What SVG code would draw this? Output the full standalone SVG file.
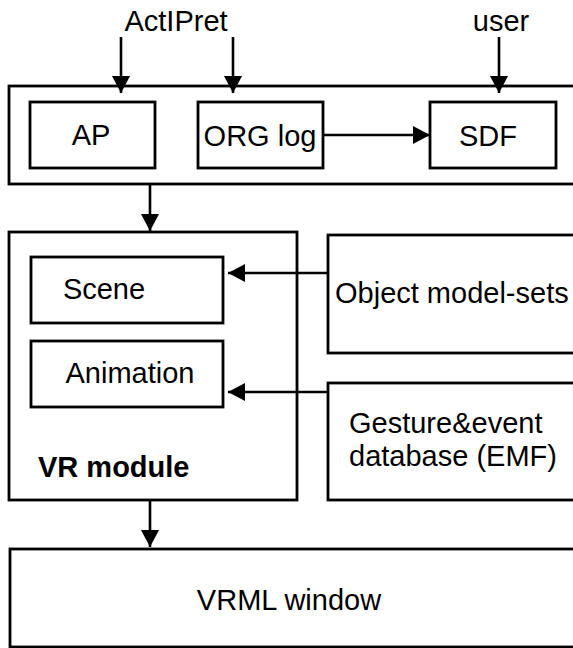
<svg xmlns="http://www.w3.org/2000/svg" width="573" height="648" viewBox="0 0 573 648">
  <style>
    .box { fill: #ffffff; stroke: #000000; stroke-width: 2.8; }
    .lbl { font-family: "Liberation Sans", Arial, sans-serif; font-size: 29px; fill: #000000; }
    .mid { text-anchor: middle; }
    .bold { font-weight: bold; }
    .conn { fill: none; stroke: #000000; stroke-width: 2.6; marker-end: url(#arrow); }
  </style>
  <defs>
    <marker id="arrow" markerUnits="userSpaceOnUse" markerWidth="17" markerHeight="18" viewBox="0 0 17 18" refX="17" refY="9" orient="auto">
      <path d="M0,0 L17,9 L0,18 Z" fill="#000000"/>
    </marker>
  </defs>
  <rect width="573" height="648" fill="#ffffff"/>

  <!-- source labels above the input stage -->
  <g id="actipret">
    <text class="lbl mid" x="176" y="31">ActIPret</text>
  </g>
  <g id="user">
    <text class="lbl mid" x="501" y="31">user</text>
  </g>

  <!-- input stage -->
  <g id="input-stage">
    <rect class="box" x="9" y="86" width="600" height="98"/>
  </g>
  <g id="ap">
    <rect class="box" x="30" y="102" width="125" height="66"/>
    <text class="lbl mid" x="91" y="145">AP</text>
  </g>
  <g id="org-log">
    <rect class="box" x="198" y="102" width="125" height="66"/>
    <text class="lbl mid" x="260" y="146">ORG log</text>
  </g>
  <g id="sdf">
    <rect class="box" x="430" y="102" width="126" height="66"/>
    <text class="lbl mid" x="488" y="146">SDF</text>
  </g>

  <!-- VR module -->
  <g id="vr-module">
    <rect class="box" x="9" y="232" width="288" height="268"/>
    <text class="lbl bold" x="38" y="477">VR module</text>
  </g>
  <g id="scene">
    <rect class="box" x="31" y="257" width="192" height="66"/>
    <text class="lbl mid" x="104" y="299">Scene</text>
  </g>
  <g id="animation">
    <rect class="box" x="31" y="341" width="192" height="66"/>
    <text class="lbl mid" x="130" y="383">Animation</text>
  </g>

  <!-- data sources on the right -->
  <g id="object-model-sets">
    <rect class="box" x="328" y="235" width="300" height="118"/>
    <text class="lbl" x="335" y="303">Object model-sets</text>
  </g>
  <g id="gesture-event-db">
    <rect class="box" x="328" y="383" width="300" height="117"/>
    <text class="lbl" x="349" y="433">Gesture&amp;event</text>
    <text class="lbl" x="349" y="466">database (EMF)</text>
  </g>

  <!-- output -->
  <g id="vrml-window">
    <rect class="box" x="10" y="549" width="600" height="98"/>
    <text class="lbl mid" x="289" y="610">VRML window</text>
  </g>

  <!-- connectors -->
  <g id="connectors">
    <path class="conn" d="M121,37 V93"/>
    <path class="conn" d="M233,37 V93"/>
    <path class="conn" d="M499,37 V93"/>
    <path class="conn" d="M323,135 H430"/>
    <path class="conn" d="M150,184 V231"/>
    <path class="conn" d="M328,273 H228"/>
    <path class="conn" d="M328,392 H228"/>
    <path class="conn" d="M150,500 V547"/>
  </g>
</svg>
